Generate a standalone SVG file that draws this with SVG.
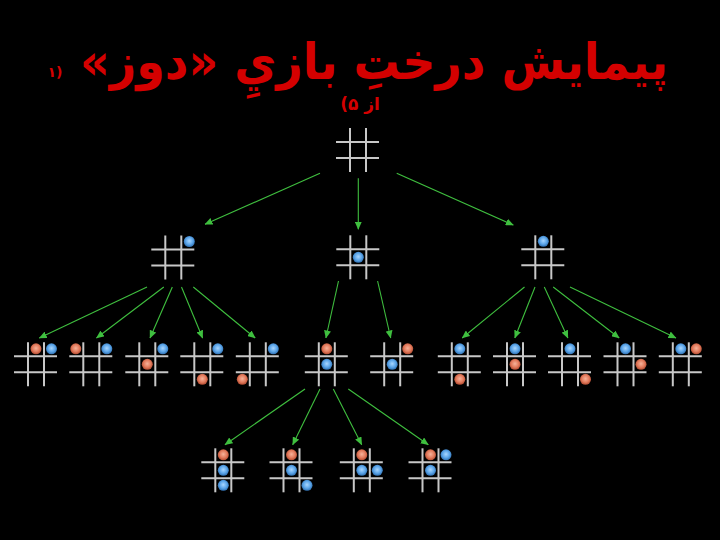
<svg xmlns="http://www.w3.org/2000/svg" xmlns:xlink="http://www.w3.org/1999/xlink" width="720" height="540" viewBox="0 0 720 540">
<style>
.ttl{font-family:"DejaVu Sans","Noto Sans",sans-serif;font-weight:bold;fill:#d40000;direction:rtl;unicode-bidi:embed}
.gl{stroke:#c8c8c8;stroke-width:2;fill:none}
.cn{stroke:#3fbf3f;stroke-width:1.1;fill:none;marker-end:url(#ah)}
.b{fill:url(#gb)}
.r{fill:url(#gr)}
</style>
<defs>
<marker id="ah" markerUnits="userSpaceOnUse" markerWidth="8" markerHeight="7" refX="7.5" refY="3.5" orient="auto">
<path d="M0,0 L8,3.5 L0,7 z" fill="#3fbf3f"/>
</marker>
<radialGradient id="gb" cx="50%" cy="45%" r="55%">
<stop offset="0" stop-color="#a8d6ff"/>
<stop offset="0.6" stop-color="#5aa4e8"/>
<stop offset="1" stop-color="#2f6fb0"/>
</radialGradient>
<radialGradient id="gr" cx="50%" cy="45%" r="55%">
<stop offset="0" stop-color="#f6b29a"/>
<stop offset="0.6" stop-color="#e27a5c"/>
<stop offset="1" stop-color="#b04a30"/>
</radialGradient>
<g id="grid">
<line class="gl" x1="-8" y1="-22" x2="-8" y2="22"/>
<line class="gl" x1="8" y1="-22" x2="8" y2="22"/>
<line class="gl" x1="-22" y1="-8" x2="21" y2="-8"/>
<line class="gl" x1="-22" y1="8" x2="21" y2="8"/>
</g>
</defs>
<rect width="720" height="540" fill="#000"/>
<g id="title">
<text class="ttl" x="374" y="79" font-size="50" text-anchor="middle" textLength="588" lengthAdjust="spacingAndGlyphs">پیمایش درختِ بازيِ «دوز»</text>
<text class="ttl" x="55" y="77" font-size="14" text-anchor="middle">(۱</text>
<text class="ttl" x="360" y="110" font-size="17" text-anchor="middle">از ۵)</text>
</g>
<g id="connectors">
<line class="cn" x1="320" y1="173.3" x2="205" y2="224.3"/>
<line class="cn" x1="358.3" y1="178.3" x2="358.3" y2="229.3"/>
<line class="cn" x1="396.7" y1="173.3" x2="513.3" y2="225"/>
<line class="cn" x1="147" y1="287" x2="39.3" y2="338"/>
<line class="cn" x1="163.8" y1="287" x2="96.5" y2="338"/>
<line class="cn" x1="172.3" y1="287" x2="150" y2="338"/>
<line class="cn" x1="181.5" y1="287" x2="202.6" y2="338"/>
<line class="cn" x1="193.3" y1="287" x2="255.2" y2="338"/>
<line class="cn" x1="338.5" y1="281" x2="325.9" y2="338"/>
<line class="cn" x1="377.6" y1="281" x2="390.7" y2="338"/>
<line class="cn" x1="524.5" y1="287" x2="462.2" y2="338"/>
<line class="cn" x1="535" y1="287" x2="514.8" y2="338"/>
<line class="cn" x1="544.3" y1="287" x2="567.9" y2="338"/>
<line class="cn" x1="553.2" y1="287" x2="619.2" y2="338"/>
<line class="cn" x1="570" y1="287" x2="676" y2="338"/>
<line class="cn" x1="305" y1="389" x2="225" y2="444.7"/>
<line class="cn" x1="320" y1="389" x2="292.7" y2="444.7"/>
<line class="cn" x1="333.3" y1="389" x2="361.7" y2="444.7"/>
<line class="cn" x1="348.3" y1="389" x2="428.3" y2="444.7"/>
</g>
<g id="n0" transform="translate(358,150)"><use href="#grid"/></g>
<g id="n1" transform="translate(173.3,257.5)"><use href="#grid"/><circle class="b" cx="16" cy="-16" r="5.5"/></g>
<g id="n2" transform="translate(358.3,257.3)"><use href="#grid"/><circle class="b" cx="0" cy="0" r="5.5"/></g>
<g id="n3" transform="translate(543.3,257.3)"><use href="#grid"/><circle class="b" cx="0" cy="-16" r="5.5"/></g>
<g id="n4" transform="translate(36,364.3)"><use href="#grid"/><circle class="r" cx="0" cy="-15.5" r="5.5"/><circle class="b" cx="15.5" cy="-15.5" r="5.5"/></g>
<g id="n5" transform="translate(91.3,364.3)"><use href="#grid"/><circle class="r" cx="-15.5" cy="-15.5" r="5.5"/><circle class="b" cx="15.5" cy="-15.5" r="5.5"/></g>
<g id="n6" transform="translate(147.3,364.3)"><use href="#grid"/><circle class="r" cx="0" cy="0" r="5.5"/><circle class="b" cx="15.5" cy="-15.5" r="5.5"/></g>
<g id="n7" transform="translate(202.3,364.3)"><use href="#grid"/><circle class="r" cx="0" cy="15" r="5.5"/><circle class="b" cx="15.5" cy="-15.5" r="5.5"/></g>
<g id="n8" transform="translate(257.8,364.3)"><use href="#grid"/><circle class="r" cx="-15.5" cy="15" r="5.5"/><circle class="b" cx="15.5" cy="-15.5" r="5.5"/></g>
<g id="n9" transform="translate(326.8,364.3)"><use href="#grid"/><circle class="r" cx="0" cy="-15.5" r="5.5"/><circle class="b" cx="0" cy="0" r="5.5"/></g>
<g id="n10" transform="translate(392.2,364.3)"><use href="#grid"/><circle class="r" cx="15.5" cy="-15.5" r="5.5"/><circle class="b" cx="0" cy="0" r="5.5"/></g>
<g id="n11" transform="translate(459.8,364.3)"><use href="#grid"/><circle class="b" cx="0" cy="-15.5" r="5.5"/><circle class="r" cx="0" cy="15" r="5.5"/></g>
<g id="n12" transform="translate(515,364.3)"><use href="#grid"/><circle class="b" cx="0" cy="-15.5" r="5.5"/><circle class="r" cx="0" cy="0" r="5.5"/></g>
<g id="n13" transform="translate(570,364.3)"><use href="#grid"/><circle class="b" cx="0" cy="-15.5" r="5.5"/><circle class="r" cx="15.5" cy="15" r="5.5"/></g>
<g id="n14" transform="translate(625.5,364.3)"><use href="#grid"/><circle class="b" cx="0" cy="-15.5" r="5.5"/><circle class="r" cx="15.5" cy="0" r="5.5"/></g>
<g id="n15" transform="translate(680.8,364.3)"><use href="#grid"/><circle class="b" cx="0" cy="-15.5" r="5.5"/><circle class="r" cx="15.5" cy="-15.5" r="5.5"/></g>
<g id="n16" transform="translate(223.3,470.3)"><use href="#grid"/><circle class="r" cx="0" cy="-15.5" r="5.5"/><circle class="b" cx="0" cy="0" r="5.5"/><circle class="b" cx="0" cy="15" r="5.5"/></g>
<g id="n17" transform="translate(291.5,470.3)"><use href="#grid"/><circle class="r" cx="0" cy="-15.5" r="5.5"/><circle class="b" cx="0" cy="0" r="5.5"/><circle class="b" cx="15.5" cy="15" r="5.5"/></g>
<g id="n18" transform="translate(361.8,470.3)"><use href="#grid"/><circle class="r" cx="0" cy="-15.5" r="5.5"/><circle class="b" cx="0" cy="0" r="5.5"/><circle class="b" cx="15.5" cy="0" r="5.5"/></g>
<g id="n19" transform="translate(430.5,470.3)"><use href="#grid"/><circle class="r" cx="0" cy="-15.5" r="5.5"/><circle class="b" cx="15.5" cy="-15.5" r="5.5"/><circle class="b" cx="0" cy="0" r="5.5"/></g>
</svg>
